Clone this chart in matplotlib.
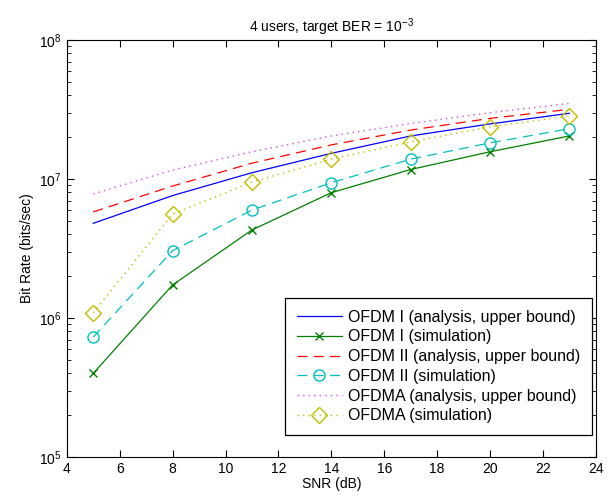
import matplotlib.pyplot as plt

snr = [5, 8, 11, 14, 17, 20, 23]

ofdm1_ana = [4.8e6, 7.6e6, 1.11e7, 1.53e7, 2.04e7, 2.49e7, 2.97e7]
ofdm1_sim = [4.0e5, 1.73e6, 4.3e6, 7.97e6, 1.17e7, 1.57e7, 2.04e7]
ofdm2_ana = [5.8e6, 8.9e6, 1.30e7, 1.76e7, 2.25e7, 2.73e7, 3.17e7]
ofdm2_sim = [7.3e5, 3.05e6, 5.98e6, 9.4e6, 1.39e7, 1.82e7, 2.30e7]
ofdma_ana = [7.8e6, 1.16e7, 1.57e7, 2.04e7, 2.51e7, 3.0e7, 3.5e7]
ofdma_sim = [1.09e6, 5.6e6, 9.5e6, 1.39e7, 1.85e7, 2.37e7, 2.84e7]

labels = ['OFDM I (analysis, upper bound)', 'OFDM I (simulation)',
          'OFDM II (analysis, upper bound)', 'OFDM II (simulation)',
          'OFDMA (analysis, upper bound)', 'OFDMA (simulation)']

plt.rcParams['font.family'] = ['Liberation Sans', 'DejaVu Sans']
plt.rcParams['mathtext.fontset'] = 'custom'
plt.rcParams['mathtext.rm'] = 'Liberation Sans'

fig = plt.figure(figsize=(6.13, 5.0), dpi=100)
ax = fig.add_axes([0.109, 0.086, 0.863, 0.834])

ax.plot(snr, ofdm1_ana, color='b', lw=0.9, label=labels[0])
ax.plot(snr, ofdm1_sim, color=(0, 0.5, 0), lw=0.9, marker='x', ms=6, label=labels[1])
ax.plot(snr, ofdm2_ana, color='r', lw=0.9, ls=(0, (8, 5)), label=labels[2])
ax.plot(snr, ofdm2_sim, color=(0, 0.75, 0.75), lw=0.9, ls=(0, (8, 5)), marker='o',
        mfc='none', ms=8, label=labels[3])
ax.plot(snr, ofdma_ana, color=(0.85, 0.3, 0.85), lw=1.0, ls=(0, (1, 3)), label=labels[4])
ax.plot(snr, ofdma_sim, color=(0.75, 0.75, 0), lw=1.0, ls=(0, (1, 3)), marker='D',
        mfc='none', ms=8, label=labels[5])

ax.set_yscale('log')
ax.set_xlim(4, 24)
ax.set_ylim(1e5, 1e8)
ax.set_xticks(range(4, 25, 2))
ax.tick_params(which='both', direction='in', top=True, right=True, labelsize=10)
ax.tick_params(which='major', length=5)
ax.tick_params(which='minor', length=3)

ax.set_title('4 users, target BER = $10^{-3}$', fontsize=10)
ax.set_xlabel('SNR (dB)', fontsize=10, labelpad=1)
ax.set_ylabel('Bit Rate (bits/sec)', fontsize=10)

leg = ax.legend(loc='lower right', bbox_to_anchor=(0.9924, 0.0528), borderaxespad=0,
                fontsize=11.5, fancybox=False, framealpha=1, edgecolor='black',
                handlelength=2.8, handletextpad=0.4, labelspacing=0.3,
                borderpad=0.72)
leg.get_frame().set_linewidth(0.9)

plt.savefig('out.png')
